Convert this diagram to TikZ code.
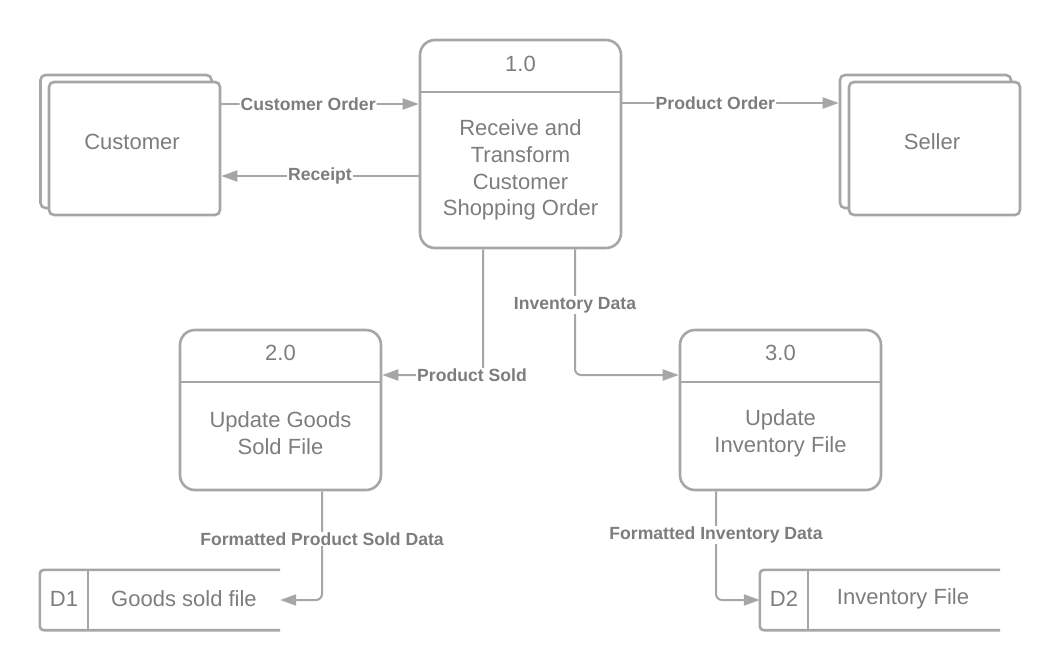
\documentclass[tikz,border=0pt]{standalone}
\usepackage{fontspec}
\setmainfont{Liberation Sans}
\usetikzlibrary{arrows.meta}
\definecolor{ln}{RGB}{166,166,166}
\definecolor{tx}{RGB}{125,125,125}
\begin{document}
\begin{tikzpicture}[x=1pt,y=-1pt,
  proc/.style={draw=ln, line width=2.6pt, rounded corners=15pt, minimum width=201pt, inner sep=0pt},
  ent/.style={draw=ln, fill=white, line width=2.6pt, rounded corners=5pt, minimum width=171pt, minimum height=133pt, inner sep=0pt},
  store/.style={minimum width=240pt, minimum height=60pt, inner sep=0pt},
  outline/.style={draw=ln, line width=2.6pt},
  flow/.style={draw=ln, line width=2pt, rounded corners=6pt, -{Triangle[length=16pt,width=11pt]}},
  lbl/.style={fill=white, text=tx, font=\bfseries\fontsize{17.6}{20}\selectfont, inner sep=1pt},
  txt/.style={text=tx, font=\fontsize{22}{26.8}\selectfont, align=center, inner sep=0pt}
]
\useasboundingbox (0,0) rectangle (1060,670);

% external entities
\node[ent] (custb) at (126,141.5) {};
\node[ent] (cust) at (134.5,148.5) {};
\node[txt] (custt) at (132,142) {Customer};
\node[ent] (sellb) at (925.5,141.5) {};
\node[ent] (sell) at (934.5,148.5) {};
\node[txt] (sellt) at (932,142) {Seller};

% processes
\node[proc, minimum height=208pt] (p1) at (520.5,144) {};
\draw[outline] (p1.west |- 0,92) -- (p1.east |- 0,92);
\node[txt] (p1n) at (520.5,63.5) {1.0};
\node[txt] (p1t) at (520.5,170) {Receive and\\Transform\\Customer\\Shopping Order};

\node[proc, minimum height=160pt] (p2) at (280.5,410) {};
\draw[outline] (p2.west |- 0,382) -- (p2.east |- 0,382);
\node[txt] (p2n) at (280.5,353) {2.0};
\node[txt] (p2t) at (280.5,433.5) {Update Goods\\Sold File};

\node[proc, minimum height=160pt] (p3) at (780.5,410) {};
\draw[outline] (p3.west |- 0,382) -- (p3.east |- 0,382);
\node[txt] (p3n) at (780.5,353) {3.0};
\node[txt] (p3t) at (780.5,433.5) {Update\\Inventory File};

% data stores
\node[store] (d1) at (160,600) {};
\draw[outline, rounded corners=4pt] (d1.north east) -- (d1.north west) -- (d1.south west) -- (d1.south east);
\draw[outline] (d1.north west -| 88,0) -- (d1.south west -| 88,0);
\node[txt] (d1n) at (64,599) {D1};
\node[txt] (d1t) at (184,599) {Goods sold file};

\node[store] (d2) at (880,600) {};
\draw[outline, rounded corners=4pt] (d2.north east) -- (d2.north west) -- (d2.south west) -- (d2.south east);
\draw[outline] (d2.north west -| 808,0) -- (d2.south west -| 808,0);
\node[txt] (d2n) at (784,599) {D2};
\node[txt] (d2t) at (903,599) {Inventory File};

% flows
\draw[flow] (cust.east |- 0,104) -- (p1.west |- 0,104) node[lbl, pos=0.44] {Customer Order};
\draw[flow] (p1.west |- 0,176) -- (cust.east |- 0,176) node[lbl, pos=0.5] {Receipt};
\draw[flow] (p1.east |- 0,103) -- (sellb.west |- 0,103) node[lbl, pos=0.43] {Product Order};

\draw[flow] (p1.south -| 483,0) -- (483,375) -- (p2.east |- 0,375);
\node[lbl] (lps) at (472,375) {Product Sold};

\draw[flow] (p1.south -| 575,0) -- (575,375) -- (p3.west |- 0,375);
\node[lbl] (lid) at (575,305) {Inventory Data};

\draw[flow] (p2.south -| 322,0) -- (322,600) -- (d1.east);
\node[lbl] (lfp) at (322,539) {Formatted Product Sold Data};

\draw[flow] (p3.south -| 716,0) -- (716,600) -- (d2.west);
\node[lbl] (lfi) at (716,535) {Formatted Inventory Data};
\end{tikzpicture}
\end{document}
